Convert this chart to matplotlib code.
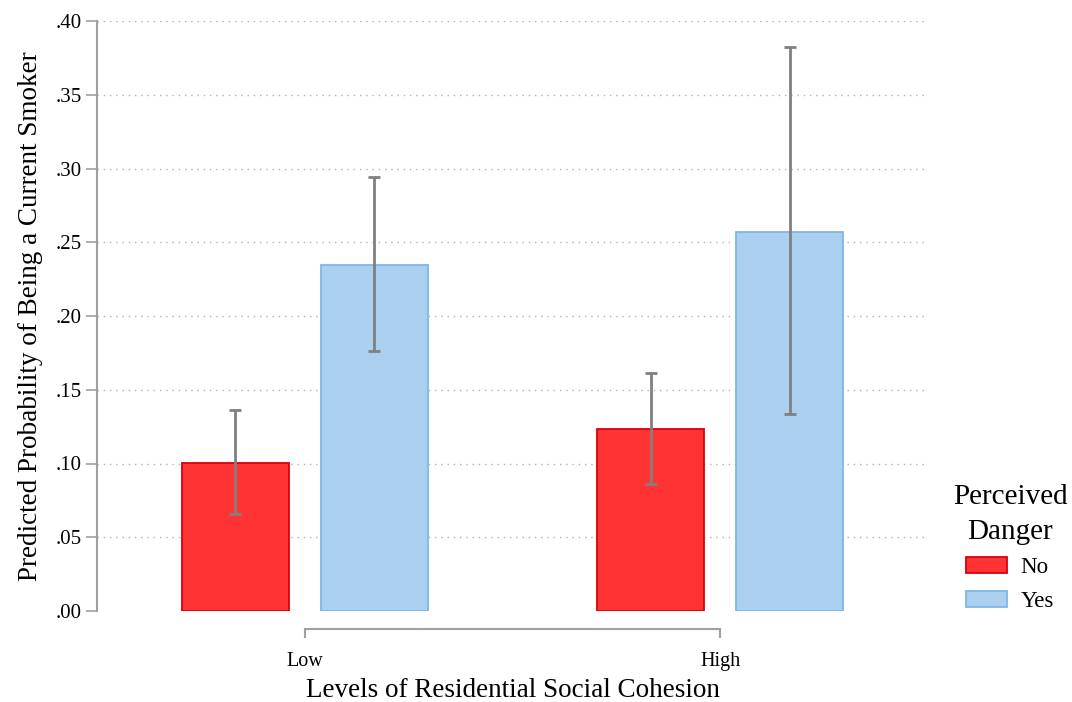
import numpy as np
import matplotlib
matplotlib.use("Agg")
import matplotlib.pyplot as plt

plt.rcParams['font.family'] = ['Liberation Serif', 'DejaVu Serif']

# data
groups = ["Low", "High"]
series = ["No", "Yes"]
prob_no = [0.1005, 0.1235]
prob_yes = [0.2348, 0.2570]
lo_no = [0.0660, 0.0862]
hi_no = [0.1365, 0.1615]
lo_yes = [0.1765, 0.1338]
hi_yes = [0.2942, 0.3823]
yticks = [0.0, 0.05, 0.10, 0.15, 0.20, 0.25, 0.30, 0.35, 0.40]

fig = plt.figure(figsize=(10.72, 7.02), dpi=100)
ax = fig.add_axes([97 / 1072, 1 - 611 / 702, (928 - 97) / 1072, 590 / 702])

x = np.arange(len(groups))
off = 0.1675
w = 0.258
gray = "#808080"

ax.bar(x - off, prob_no, width=w, color="#FF3333", edgecolor="#D9000B", linewidth=1.3, label=series[0], zorder=2)
ax.bar(x + off, prob_yes, width=w, color="#AACFEF", edgecolor="#7EB7E6", linewidth=1.3, label=series[1], zorder=2)

for xs, v, lo, hi in [(x - off, prob_no, lo_no, hi_no), (x + off, prob_yes, lo_yes, hi_yes)]:
    v = np.array(v)
    err = [v - np.array(lo), np.array(hi) - v]
    ax.errorbar(xs, v, yerr=err, fmt="none", ecolor=gray, elinewidth=2, capsize=4.5, capthick=2, zorder=3)

for s in ["top", "right"]:
    ax.spines[s].set_visible(False)
ax.spines["left"].set_color("#a0a0a0")
ax.spines["left"].set_linewidth(1.5)
ax.spines["bottom"].set_color("#a0a0a0")
ax.spines["bottom"].set_linewidth(1.5)
ax.spines["bottom"].set_position(("outward", 13))

ax.set_xlim(-0.5, 1.5)
ax.set_ylim(0, 0.40)
ax.set_yticks(yticks)
ax.set_yticklabels(["." + f"{t:.2f}".split(".")[1] for t in yticks])
for t in yticks[1:]:
    ax.axhline(t, color="#b0b0b0", linestyle=(0, (1, 3.5)), linewidth=1, zorder=1)

ax.set_xticks(x)
ax.set_xticklabels(groups)
ax.spines["bottom"].set_bounds(0, 1)

ax.tick_params(axis="y", color="#a0a0a0", length=8, width=1.2, pad=3, labelsize=15)
ax.tick_params(axis="x", color="#a0a0a0", length=6.5, width=1.5, pad=10, labelsize=14.5)

ax.set_ylabel("Predicted Probability of Being a Current Smoker", fontsize=19.5, labelpad=9)
ax.set_xlabel("Levels of Residential Social Cohesion", fontsize=19.5, labelpad=5)

leg = ax.legend(title="Perceived\nDanger", loc="center left", bbox_to_anchor=(1.005, 0.107),
                frameon=False, fontsize=16.5, title_fontsize=21, handlelength=1.75,
                handleheight=0.7, handletextpad=0.6, labelspacing=0.55)
leg._legend_box.align = "center"
leg.get_title().set_multialignment("center")
leg.get_title().set_linespacing(1.45)

fig.savefig("out.png", dpi=100)
